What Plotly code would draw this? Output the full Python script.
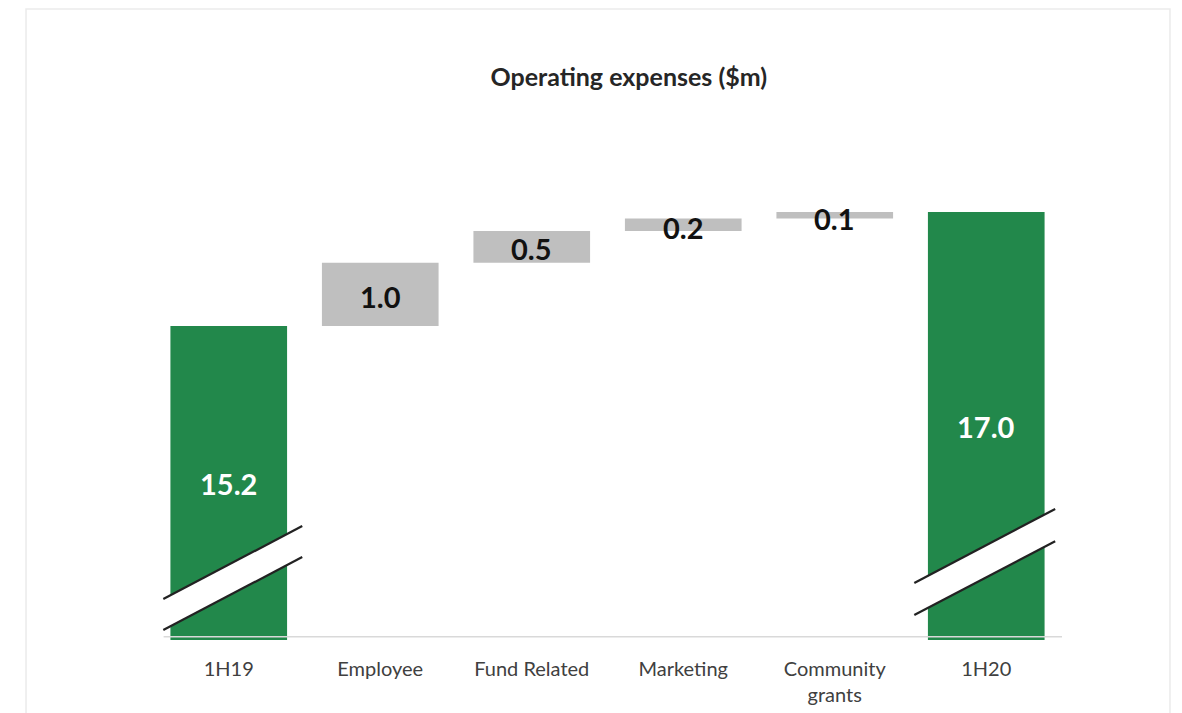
import plotly.graph_objects as go

# Operating expenses bridge, 1H19 -> 1H20 ($m)
categories = ["1H19", "Employee", "Fund Related", "Marketing", "Community<br>grants", "1H20"]
values = [15.2, 1.0, 0.5, 0.2, 0.1, 17.0]
measures = ["absolute", "relative", "relative", "relative", "relative", "total"]
labels = ["15.2", "1.0", "0.5", "0.2", "0.1", "17.0"]

GREEN = "#22884B"
GREY = "#BFBFBF"
Y_MIN, Y_MAX = 10.24, 18.77
FONT = "Lato, 'Open Sans', sans-serif"

fig = go.Figure()
fig.add_trace(go.Waterfall(
    x=categories,
    y=[v if m != "total" else 0 for v, m in zip(values, measures)],
    measure=measures,
    width=0.77,
    increasing=dict(marker=dict(color=GREY)),
    decreasing=dict(marker=dict(color=GREY)),
    totals=dict(marker=dict(color=GREEN)),
    connector=dict(visible=False),
    textposition="none",
    hoverinfo="skip",
))

# Value labels, centred in the visible part of each bar
annotations = []
running = 0.0
for i, (v, m, lab) in enumerate(zip(values, measures, labels)):
    if m == "absolute":
        lo, hi = 0.0, v
        running = v
    elif m == "relative":
        lo, hi = running, running + v
        running += v
    else:
        lo, hi = 0.0, running
    vis_lo = max(lo, Y_MIN)
    mid = (vis_lo + hi) / 2
    is_total = m != "relative"
    annotations.append(dict(
        x=i, y=mid, xref="x", yref="y", text=f"<b>{lab}</b>", showarrow=False,
        font=dict(family=FONT, size=29, color="white" if is_total else "#111111"),
        yshift=0 if is_total else -2 if v >= 0.5 else -3,
    ))

shapes = []
# card outline
shapes.append(dict(type="rect", xref="paper", yref="paper",
                   x0=-0.1397, x1=1.1188, y0=-0.2, y1=1.1685,
                   line=dict(color="#EBEBEB", width=1.5), fillcolor="rgba(0,0,0,0)",
                   layer="below"))
# horizontal axis line
shapes.append(dict(type="line", xref="x", yref="y", x0=-0.43, x1=5.5,
                   y0=10.29, y1=10.29, line=dict(color="#D9D9D9", width=1.5)))

# axis-break markers on the two total bars
breaks = [
    # (x_left, x_right, upper_left, upper_right, lower_left, lower_right)
    (-0.432, 0.485, 10.887, 12.04, 10.398, 11.55),
    (4.525, 5.455, 11.14, 12.31, 10.635, 11.80),
]
for xl, xr, ul, ur, ll, lr in breaks:
    shapes.append(dict(type="path", xref="x", yref="y",
                       path=f"M {xl},{ul} L {xr},{ur} L {xr},{lr} L {xl},{ll} Z",
                       fillcolor="white", line=dict(width=0)))
    shapes.append(dict(type="line", xref="x", yref="y", x0=xl, x1=xr, y0=ul, y1=ur,
                       line=dict(color="#222222", width=2.2)))
    shapes.append(dict(type="line", xref="x", yref="y", x0=xl, x1=xr, y0=ll, y1=lr,
                       line=dict(color="#222222", width=2.2)))

fig.update_layout(
    width=1182, height=713,
    margin=dict(l=153, r=120, t=100, b=73),
    paper_bgcolor="white", plot_bgcolor="white",
    showlegend=False,
    title=dict(text="<b>Operating expenses ($m)</b>", x=0.532, xanchor="center",
               y=1 - 77 / 713, yanchor="middle",
               font=dict(family=FONT, size=25, color="#262626")),
    xaxis=dict(type="category", range=[-0.5, 5.5], showgrid=False, zeroline=False,
               showline=False, ticks="", ticklabelstandoff=15, automargin=False,
               tickfont=dict(family=FONT, size=20, color="#404040")),
    yaxis=dict(range=[Y_MIN, Y_MAX], visible=False, showgrid=False, zeroline=False,
               automargin=False),
    annotations=annotations,
    shapes=shapes,
)

fig.write_html("out.html")
